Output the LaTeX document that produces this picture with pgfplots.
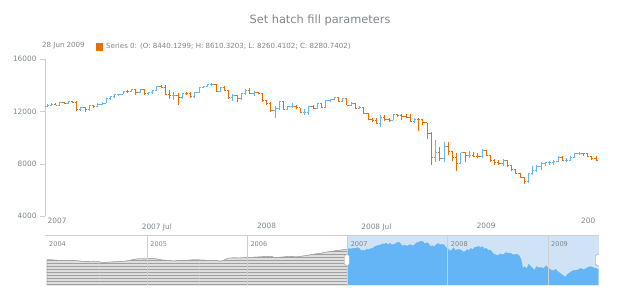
\documentclass[border=0pt]{standalone}
\usepackage{pgfplots}
\pgfplotsset{compat=1.18}
\usepackage{pgfplotstable}
\usetikzlibrary{patterns}
\usepackage{fontspec}
\setmainfont{DejaVu Sans}

\definecolor{rise}{HTML}{64B5F6}
\definecolor{fall}{HTML}{EF6C00}
\definecolor{txt}{HTML}{7C868E}
\definecolor{axisgrey}{HTML}{CECECE}
\definecolor{selbg}{HTML}{D0E3F6}
\definecolor{navfill}{HTML}{DEDEDE}
\definecolor{navhatch}{HTML}{A0A0A0}
\definecolor{navline}{HTML}{A0A0A0}

% one OHLC glyph, drawn at (x, low); lengths and colour from the data via visualization depends on
\pgfdeclareplotmark{ohlc}{%
  \ifdim\ohlcD pt<0pt\relax\pgfsetstrokecolor{fall}\else\pgfsetstrokecolor{rise}\fi
  \pgfsetlinewidth{0.8bp}%
  \pgfpathmoveto{\pgfqpoint{0pt}{0pt}}%
  \pgfpathlineto{\pgfpoint{0pt}{\ohlcH bp}}%
  \pgfpathmoveto{\pgfpoint{-1.8bp}{\ohlcO bp}}%
  \pgfpathlineto{\pgfpoint{0pt}{\ohlcO bp}}%
  \pgfpathmoveto{\pgfpoint{0pt}{\ohlcC bp}}%
  \pgfpathlineto{\pgfpoint{1.8bp}{\ohlcC bp}}%
  \pgfusepathqstroke}

% weekly OHLC, week index 0 = week of 31 Dec 2006
\pgfplotstableread{
i o h l c
0 12400 12560 12340 12480
1 12480 12600 12420 12560
2 12560 12620 12450 12490
3 12490 12680 12430 12650
4 12650 12720 12560 12600
5 12600 12790 12570 12760
6 12760 12800 12640 12650
7 12650 12790 12050 12110
8 12110 12300 12000 12270
9 12270 12330 11940 12110
10 12110 12500 12050 12480
11 12480 12520 12280 12350
12 12350 12600 12300 12560
13 12560 12700 12500 12610
14 12610 12980 12600 12960
15 12960 13150 12900 13120
16 13120 13290 13050 13260
17 13260 13360 13200 13330
18 13330 13560 13290 13550
19 13550 13640 13400 13510
20 13510 13700 13480 13670
21 13670 13690 13260 13420
22 13420 13650 13380 13640
23 13640 13700 13260 13360
24 13360 13500 13250 13410
25 13410 13640 13350 13610
26 13610 13920 13570 13900
27 13900 14020 13780 13850
28 13850 14000 13250 13270
29 13270 13600 12980 13180
30 13180 13500 12880 13240
31 13240 13400 12520 13080
32 13080 13420 12950 13380
33 13380 13500 13230 13360
34 13360 13470 13050 13110
35 13110 13480 13000 13440
36 13440 13850 13400 13820
37 13820 13950 13760 13900
38 13900 14080 13850 14070
39 14070 14200 13950 14090
40 14090 14120 13500 13520
41 13520 13850 13450 13810
42 13810 13930 13550 13600
43 13600 13650 12950 13040
44 13040 13300 12800 13180
45 13180 13250 12720 12980
46 12980 13400 12900 13370
47 13370 13670 13260 13630
48 13630 13750 13320 13340
49 13340 13550 13150 13450
50 13450 13500 13300 13370
51 13370 13400 12750 12800
52 12800 12860 12500 12610
53 12610 12700 11950 12100
54 12100 12400 11500 12210
55 12210 12800 12100 12740
56 12740 12770 12080 12180
57 12180 12410 12100 12350
58 12350 12620 12250 12380
59 12380 12450 12200 12270
60 12270 12290 11850 11890
61 11890 12180 11750 11950
62 11950 12420 11700 12360
63 12360 12500 12150 12220
64 12220 12650 12200 12610
65 12610 12650 12270 12330
66 12330 12880 12300 12850
67 12850 12950 12700 12890
68 12890 13130 12850 13060
69 13060 13080 12700 12750
70 12750 13030 12700 12990
71 12990 13050 12450 12480
72 12480 12700 12400 12640
73 12640 12650 12150 12210
74 12210 12400 12150 12310
75 12310 12330 11800 11840
76 11840 11900 11330 11350
77 11350 11500 11220 11290
78 11290 11500 11050 11100
79 11100 11700 10830 11500
80 11500 11700 11250 11370
81 11370 11500 11200 11330
82 11330 11800 11300 11730
83 11730 11800 11540 11660
84 11660 11760 11350 11630
85 11630 11800 11500 11540
86 11540 11800 11180 11220
87 11220 11520 11100 11420
88 11420 11480 10460 11390
89 11390 11400 10920 11140
90 11140 11140 9900 10320
91 10320 10400 7880 8450
92 8450 9800 8150 8850
93 8850 9300 8200 8380
94 8380 9650 8100 9330
95 9330 9650 8650 8940
96 8940 9000 8200 8500
97 8500 8800 7450 8050
98 8050 8830 8000 8830
99 8830 8900 8150 8630
100 8600 8950 8400 8630
101 8630 8900 8500 8580
102 8580 8800 8400 8520
103 8520 9100 8400 9030
104 9030 9080 8550 8600
105 8600 8700 8150 8280
106 8280 8350 7900 8080
107 8080 8300 7900 8000
108 8000 8350 7800 8280
109 8280 8300 7750 7850
110 7850 7900 7450 7550
111 7550 7600 7200 7270
112 7270 7300 6900 6950
113 6950 7000 6470 6630
114 6630 7250 6550 7220
115 7220 7800 7150 7500
116 7500 7900 7400 7780
117 7780 8100 7550 8020
118 8020 8150 7850 8080
119 8080 8200 7900 8130
120 8130 8260 7900 8210
121 8210 8600 8100 8500
122 8500 8550 8200 8270
123 8270 8400 8150 8280
124 8280 8550 8250 8500
125 8500 8780 8450 8760
126 8760 8880 8650 8800
127 8800 8850 8600 8770
128 8770 8800 8500 8540
129 8540 8600 8250 8440
130 8440.13 8610.32 8260.41 8280.74
}\ohlc

% navigator: weekly closes 2004-2006, week 0 = first week of 2004
\pgfplotstableread{
w v
0 10280
2 10250
4 10200
7 10140
10 10150
12 10120
14 10140
17 10000
19 9950
21 9930
24 9970
26 9960
28 9760
30 9720
32 9780
35 9840
38 9930
40 9960
42 10050
44 10250
46 10400
48 10480
50 10450
52 10470
54 10520
56 10490
58 10350
60 10200
62 10160
64 10080
66 10000
68 10120
70 10150
72 10140
74 10200
76 10260
78 10240
80 10220
82 10180
84 10150
86 10170
88 10120
90 9950
92 10200
94 10620
96 10640
98 10650
100 10630
102 10680
104 10760
106 10780
108 10800
110 10850
112 10900
114 10950
116 11000
118 10760
120 10780
122 10820
124 10900
126 10960
128 10950
130 10930
132 11000
134 11100
136 11250
138 11380
140 11500
142 11600
144 11800
146 11900
148 12000
150 12150
152 12250
154 12350
156 12480
}\navold

\begin{document}
\begin{tikzpicture}[x=1bp,y=1bp]
\path[use as bounding box] (0,0) rectangle (620,300);

\node[text=txt, font=\fontsize{11.4}{13}\selectfont] at (320,280) {Set hatch fill parameters};
\node[text=txt, anchor=west, inner sep=0pt, font=\fontsize{7.1}{9}\selectfont] at (42,254) {28 Jun 2009};
\fill[fall] (95.5,249.5) rectangle (102.5,257.5);
\node[text=txt, anchor=west, inner sep=0pt, font=\fontsize{7.1}{9}\selectfont] at (106,254) {Series 0: (O: 8440.1299; H: 8610.3203; L: 8260.4102; C: 8280.7402)};

\begin{axis}[
  at={(45bp,84bp)}, anchor=south west, scale only axis,
  width=553bp, height=157bp,
  xmin=-0.5, xmax=130.5, ymin=4000, ymax=16000,
  axis lines*=left,
  x axis line style={draw=none},
  y axis line style={draw=axisgrey},
  xtick={26,52,78,104},
  xticklabels={2007 Jul,2008,2008 Jul,2009},
  xtick style={draw=none},
  ytick={4000,8000,12000,16000},
  ytick style={draw=axisgrey},
  tick align=outside,
  major tick length=5bp,
  scaled y ticks=false,
  /pgf/number format/.cd, 1000 sep={}, assume math mode=true, /pgfplots/.cd,
  tick label style={font=\fontsize{7.4}{9}\selectfont, text=txt},
  xticklabel style={yshift=1bp},
  clip=false,
]
\addplot[only marks, mark=ohlc,
    visualization depends on={(\thisrow{h}-\thisrow{l})*0.01308333 \as \ohlcH},
    visualization depends on={(\thisrow{o}-\thisrow{l})*0.01308333 \as \ohlcO},
    visualization depends on={(\thisrow{c}-\thisrow{l})*0.01308333 \as \ohlcC},
    visualization depends on={\thisrow{c}-\thisrow{o} \as \ohlcD}]
  table[x=i, y=l] {\ohlc};
\node[anchor=north west, text=txt, font=\fontsize{7.4}{9}\selectfont, inner sep=2.5bp] at ([yshift=1bp]axis cs:-0.5,4000) {2007};
\node[anchor=north east, text=txt, font=\fontsize{7.4}{9}\selectfont, inner sep=2.5bp] at ([yshift=1bp]axis cs:130.5,4000) {200};
\end{axis}

\begin{axis}[
  at={(46bp,15bp)}, anchor=south west, scale only axis,
  width=553bp, height=50bp,
  xmin=-0.5, xmax=286.5, ymin=5040, ymax=15390,
  axis lines=none,
]
\fill[selbg] (axis cs:155.7,5040) rectangle (axis cs:286.5,15390);
\addplot[draw=navline, fill=navfill, postaction={pattern=horizontal lines, pattern color=navhatch}]
  table[x=w, y=v] {\navold} \closedcycle;
\addplot[draw=rise, fill=rise] table[x expr={\thisrow{i}+156}, y=c] {\ohlc} \closedcycle;
\draw[axisgrey, line width=0.8bp] (axis cs:52,5040) -- (axis cs:52,15390);
\draw[axisgrey, line width=0.8bp] (axis cs:104,5040) -- (axis cs:104,15390);
\draw[axisgrey, line width=0.8bp] (axis cs:156,5040) -- (axis cs:156,15390);
\draw[axisgrey, line width=0.8bp] (axis cs:208,5040) -- (axis cs:208,15390);
\draw[axisgrey, line width=0.8bp] (axis cs:260,5040) -- (axis cs:260,15390);
\node[anchor=west, text=txt, font=\fontsize{6.6}{8}\selectfont, inner sep=0pt] at ([xshift=3bp,yshift=-9bp]axis cs:-0.5,15390) {2004};
\node[anchor=west, text=txt, font=\fontsize{6.6}{8}\selectfont, inner sep=0pt] at ([xshift=3bp,yshift=-9bp]axis cs:52,15390) {2005};
\node[anchor=west, text=txt, font=\fontsize{6.6}{8}\selectfont, inner sep=0pt] at ([xshift=3bp,yshift=-9bp]axis cs:104,15390) {2006};
\node[anchor=west, text=txt, font=\fontsize{6.6}{8}\selectfont, inner sep=0pt] at ([xshift=3bp,yshift=-9bp]axis cs:156,15390) {2007};
\node[anchor=west, text=txt, font=\fontsize{6.6}{8}\selectfont, inner sep=0pt] at ([xshift=3bp,yshift=-9bp]axis cs:208,15390) {2008};
\node[anchor=west, text=txt, font=\fontsize{6.6}{8}\selectfont, inner sep=0pt] at ([xshift=3bp,yshift=-9bp]axis cs:260,15390) {2009};
\node[draw=navline, fill=white, rounded corners=1.5bp, minimum width=5bp, minimum height=11bp, inner sep=0pt] at (axis cs:155.7,10215) {};
\node[draw=navline, fill=white, rounded corners=1.5bp, minimum width=5bp, minimum height=11bp, inner sep=0pt] at ([xshift=-1bp]axis cs:286.5,10215) {};
\end{axis}
\draw[axisgrey, line width=0.8bp] (45,65) -- (599,65);
\end{tikzpicture}
\end{document}
